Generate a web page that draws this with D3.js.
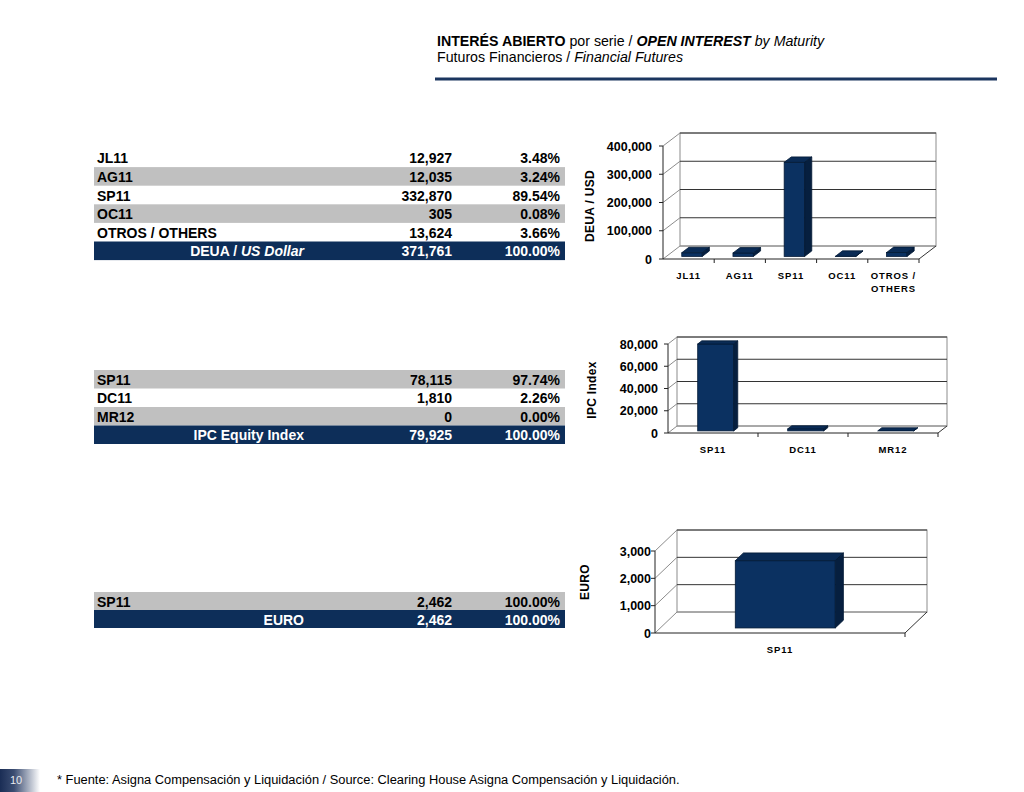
<!DOCTYPE html>
<html><head><meta charset="utf-8">
<script src="https://cdn.jsdelivr.net/npm/d3@7"></script>
<style>html,body{margin:0;padding:0;background:#fff;}svg{display:block;font-family:"Liberation Sans",Arial,sans-serif;}</style>
</head><body>
<script>
// ---- Data ----
const usdCategories = ["JL11", "AG11", "SP11", "OC11", "OTROS / OTHERS"];
const usdChartLabels = [["JL11"], ["AG11"], ["SP11"], ["OC11"], ["OTROS /", "OTHERS"]];
const usdValues = [12927, 12035, 332870, 305, 13624];
const usdPercents = ["3.48%", "3.24%", "89.54%", "0.08%", "3.66%"];
const usdTotal = {label: "DEUA / ", labelItalic: "US Dollar", value: 371761, pct: "100.00%"};
const usdTicks = [0, 100000, 200000, 300000, 400000];

const ipcCategories = ["SP11", "DC11", "MR12"];
const ipcValues = [78115, 1810, 0];
const ipcPercents = ["97.74%", "2.26%", "0.00%"];
const ipcTotal = {label: "IPC Equity Index", labelItalic: "", value: 79925, pct: "100.00%"};
const ipcTicks = [0, 20000, 40000, 60000, 80000];

const euroCategories = ["SP11"];
const euroValues = [2462];
const euroPercents = ["100.00%"];
const euroTotal = {label: "EURO", labelItalic: "", value: 2462, pct: "100.00%"};
const euroTicks = [0, 1000, 2000, 3000];

const NAVY = "#0d2e59";
const GRAY = "#c0c0c0";
const fmt = d3.format(",");

const svg = d3.select("body").append("svg").attr("width", 1024).attr("height", 792);

// ---- Header ----
const t1 = svg.append("text").attr("x", 437).attr("y", 46).attr("font-size", 14.2).attr("fill", "#000");
t1.append("tspan").attr("font-weight", "bold").text("INTERÉS ABIERTO");
t1.append("tspan").text(" por serie / ");
t1.append("tspan").attr("font-weight", "bold").attr("font-style", "italic").text("OPEN INTEREST");
t1.append("tspan").attr("font-style", "italic").text(" by Maturity");
const t2 = svg.append("text").attr("x", 437).attr("y", 62).attr("font-size", 14.2).attr("fill", "#000");
t2.append("tspan").text("Futuros Financieros / ");
t2.append("tspan").attr("font-style", "italic").text("Financial Futures");
svg.append("line").attr("x1", 435).attr("x2", 997).attr("y1", 79).attr("y2", 79)
  .attr("stroke", "#1b355f").attr("stroke-width", 3);

// ---- Tables ----
function drawTable(cfg) {
  const {top, rowH, cats, vals, pcts, total, grayFirst} = cfg;
  const x0 = 94, x1 = 565;
  const g = svg.append("g").attr("font-size", 14).attr("font-weight", "bold");
  cats.forEach((c, i) => {
    const y = top + i * rowH;
    const gray = grayFirst ? (i % 2 === 0) : (i % 2 === 1);
    if (gray) g.append("rect").attr("x", x0).attr("y", y).attr("width", x1 - x0).attr("height", rowH).attr("fill", GRAY);
    const by = y + rowH / 2 + 5.5;
    g.append("text").attr("x", 97).attr("y", by).attr("fill", "#000").text(c);
    g.append("text").attr("x", 452).attr("y", by).attr("text-anchor", "end").attr("fill", "#000").text(fmt(vals[i]));
    g.append("text").attr("x", 560).attr("y", by).attr("text-anchor", "end").attr("fill", "#000").text(pcts[i]);
  });
  const ty = top + cats.length * rowH;
  g.append("rect").attr("x", x0).attr("y", ty).attr("width", x1 - x0).attr("height", rowH).attr("fill", NAVY);
  const by = ty + rowH / 2 + 5.5;
  const lt = g.append("text").attr("x", 304).attr("y", by).attr("text-anchor", "end").attr("fill", "#fff");
  lt.append("tspan").text(total.label);
  if (total.labelItalic) lt.append("tspan").attr("font-style", "italic").text(total.labelItalic);
  g.append("text").attr("x", 452).attr("y", by).attr("text-anchor", "end").attr("fill", "#fff").text(fmt(total.value));
  g.append("text").attr("x", 560).attr("y", by).attr("text-anchor", "end").attr("fill", "#fff").text(total.pct);
}
drawTable({top: 148.5, rowH: 18.6, cats: usdCategories, vals: usdValues, pcts: usdPercents, total: usdTotal, grayFirst: false});
drawTable({top: 370, rowH: 18.5, cats: ipcCategories, vals: ipcValues, pcts: ipcPercents, total: ipcTotal, grayFirst: true});
drawTable({top: 592, rowH: 18, cats: euroCategories, vals: euroValues, pcts: euroPercents, total: euroTotal, grayFirst: true});

// ---- 3D bar charts ----
function draw3D(cfg) {
  const {x0, x1, y0, yTop, max, dx, dy, cats, labels, vals, ticks, title, titleX, titleY, d0, dd, labelY, labelEnd} = cfg;
  const g = svg.append("g");
  const y = d3.scaleLinear().domain([0, max]).range([y0, yTop]);
  const x = d3.scaleBand().domain(cats).range([x0, x1]).paddingInner(0).paddingOuter(0);
  const grid = "#8c8c8c";
  g.append("rect").attr("x", x0 + dx).attr("y", y(max) + dy).attr("width", x1 - x0).attr("height", y(0) - y(max))
    .attr("fill", "#fff").attr("stroke", grid).attr("stroke-width", 1);
  ticks.forEach(t => {
    g.append("line").attr("x1", x0 + dx).attr("x2", x1 + dx).attr("y1", y(t) + dy).attr("y2", y(t) + dy)
      .attr("stroke", t === 0 ? grid : "#333").attr("stroke-width", 1);
    g.append("line").attr("x1", x0).attr("x2", x0 + dx).attr("y1", y(t)).attr("y2", y(t) + dy)
      .attr("stroke", grid).attr("stroke-width", 1);
  });
  g.append("line").attr("x1", x1).attr("x2", x1 + dx).attr("y1", y0).attr("y2", y0 + dy).attr("stroke", "#333");
  g.append("line").attr("x1", x0).attr("x2", x0).attr("y1", y(max)).attr("y2", y0).attr("stroke", "#222");
  g.append("line").attr("x1", x0).attr("x2", x1).attr("y1", y0).attr("y2", y0).attr("stroke", "#222");
  ticks.forEach(t => {
    g.append("line").attr("x1", x0 - 4).attr("x2", x0).attr("y1", y(t)).attr("y2", y(t)).attr("stroke", "#222");
    g.append("text").attr("x", labelEnd).attr("y", y(t) + 4.5).attr("text-anchor", "end")
      .attr("font-size", 12.5).attr("font-weight", "bold").attr("fill", "#000").text(fmt(t));
  });
  x.domain().forEach((c, i) => {
    if (i > 0) g.append("line").attr("x1", x(c)).attr("x2", x(c)).attr("y1", y0).attr("y2", y0 + 4).attr("stroke", "#222");
  });
  g.append("line").attr("x1", x1).attr("x2", x1).attr("y1", y0).attr("y2", y0 + 4).attr("stroke", "#222");
  const bw = x.bandwidth() * 0.4;
  cats.forEach((c, i) => {
    const v = vals[i];
    const fx = x(c) + (x.bandwidth() - bw) / 2 + d0 * dx;
    const fb = y(0) + d0 * dy;
    const ft = y(v) + d0 * dy;
    const ox = dd * dx, oy = dd * dy;
    g.append("rect").attr("x", fx).attr("y", ft).attr("width", bw).attr("height", Math.max(0, fb - ft))
      .attr("fill", "#0b3161").attr("stroke", "#041a36").attr("stroke-width", 0.8);
    g.append("path").attr("d", `M${fx},${ft}L${fx + bw},${ft}L${fx + bw + ox},${ft + oy}L${fx + ox},${ft + oy}Z`)
      .attr("fill", "#0a2b55").attr("stroke", "#041a36").attr("stroke-width", 0.8);
    g.append("path").attr("d", `M${fx + bw},${ft}L${fx + bw + ox},${ft + oy}L${fx + bw + ox},${fb + oy}L${fx + bw},${fb}Z`)
      .attr("fill", "#061f3f").attr("stroke", "#041a36").attr("stroke-width", 0.8);
  });
  cats.forEach((c, i) => {
    const lines = labels[i];
    const tx = g.append("text").attr("x", x(c) + x.bandwidth() / 2).attr("y", labelY).attr("text-anchor", "middle")
      .attr("font-size", 9.5).attr("font-weight", "bold").attr("fill", "#000").attr("letter-spacing", 0.9);
    lines.forEach((l, j) => tx.append("tspan").attr("x", x(c) + x.bandwidth() / 2).attr("dy", j === 0 ? 0 : 13).text(l));
  });
  g.append("text").attr("transform", `translate(${titleX},${titleY}) rotate(-90)`).attr("text-anchor", "middle")
    .attr("font-size", 12).attr("font-weight", "bold").attr("fill", "#000").attr("letter-spacing", 0.3).text(title);
}

draw3D({x0: 663, x1: 919, y0: 259, yTop: 146, max: 400000, dx: 17, dy: -13, cats: usdCategories, labels: usdChartLabels,
  vals: usdValues, ticks: usdTicks, title: "DEUA / USD", titleX: 594, titleY: 206, d0: 0.2, dd: 0.42, labelY: 279, labelEnd: 652});
draw3D({x0: 668, x1: 938, y0: 433, yTop: 344, max: 80000, dx: 9, dy: -7, cats: ipcCategories, labels: ipcCategories.map(c => [c]),
  vals: ipcValues, ticks: ipcTicks, title: "IPC Index", titleX: 596, titleY: 390, d0: 0.3, dd: 0.45, labelY: 453, labelEnd: 658});
draw3D({x0: 655, x1: 905, y0: 633, yTop: 551, max: 3000, dx: 22, dy: -21, cats: euroCategories, labels: euroCategories.map(c => [c]),
  vals: euroValues, ticks: euroTicks, title: "EURO", titleX: 589, titleY: 582, d0: 0.24, dd: 0.37, labelY: 653, labelEnd: 651});

// ---- Footer ----
const grad = svg.append("defs").append("linearGradient").attr("id", "pg").attr("x1", "0").attr("x2", "1");
grad.append("stop").attr("offset", "0").attr("stop-color", "#1a2d55");
grad.append("stop").attr("offset", "0.35").attr("stop-color", "#3b4d72");
grad.append("stop").attr("offset", "1").attr("stop-color", "#ffffff");
svg.append("rect").attr("x", 0).attr("y", 769).attr("width", 40).attr("height", 23).attr("fill", "url(#pg)");
svg.append("text").attr("x", 10).attr("y", 784).attr("font-size", 11).attr("fill", "#e8eaf0").text("10");
svg.append("text").attr("x", 57).attr("y", 784).attr("font-size", 12.85).attr("fill", "#000")
  .text("* Fuente: Asigna Compensación y Liquidación / Source: Clearing House Asigna Compensación y Liquidación.");
</script>
</body></html>
